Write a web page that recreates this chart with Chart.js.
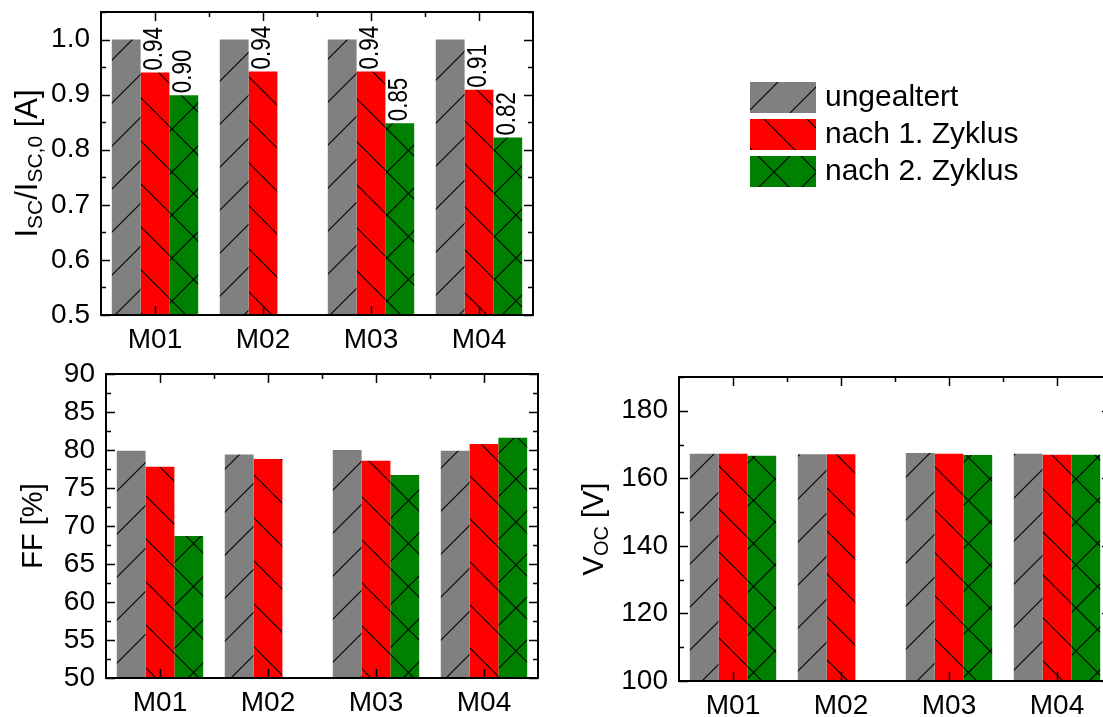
<!DOCTYPE html>
<html lang="de">

<head>
    <meta charset="UTF-8">
    <script src="https://cdn.jsdelivr.net/npm/chart.js@4.4.3/dist/chart.umd.min.js"></script>
    <style>
        html, body {
            margin: 0;
            padding: 0;
            background: #fff;
        }

        #page {
            position: relative;
            width: 1103px;
            height: 717px;
            overflow: hidden;
        }

        canvas {
            position: absolute;
        }
    </style>
</head>

<body>
    <div id="page">
        <canvas id="isc" width="1103" height="350" style="left: 0; top: 0;"></canvas>
        <canvas id="ff" width="560" height="367" style="left: 0; top: 350px;"></canvas>
        <canvas id="voc" width="560" height="367" style="left: 560px; top: 350px;"></canvas>
    </div>

    <script>
        const categories = ["M01", "M02", "M03", "M04"];
        const series_names = ["ungealtert", "nach 1. Zyklus", "nach 2. Zyklus"];

        const isc_ungealtert = [1.0, 1.0, 1.0, 1.0];
        const isc_zyklus1 = [0.940, 0.942, 0.942, 0.909];
        const isc_zyklus2 = [0.899, null, 0.848, 0.822];

        const ff_ungealtert = [79.9, 79.4, 80.0, 79.9];
        const ff_zyklus1 = [77.8, 78.8, 78.6, 80.8];
        const ff_zyklus2 = [68.7, null, 76.7, 81.6];

        const voc_ungealtert = [167.3, 167.1, 167.5, 167.3];
        const voc_zyklus1 = [167.3, 167.1, 167.3, 167.0];
        const voc_zyklus2 = [166.7, null, 166.9, 167.0];

        const isc_ticks = [0.5, 0.6, 0.7, 0.8, 0.9, 1.0];
        const ff_ticks = [50, 55, 60, 65, 70, 75, 80, 85, 90];
        const voc_ticks = [100, 120, 140, 160, 180];

        const FONT = '"Liberation Sans", Arial, sans-serif';

        function make_hatch(fill, with_slash, with_backslash) {
            const P = 43;
            let c = document.createElement("canvas");
            c.width = P;
            c.height = P;
            let g = c.getContext("2d");
            g.fillStyle = fill;
            g.fillRect(0, 0, P, P);
            g.strokeStyle = "#000";
            g.lineWidth = 1.1;
            g.beginPath();
            if (with_slash) {
                g.moveTo(-2, P + 2); g.lineTo(P + 2, -2);
                g.moveTo(-2, 2); g.lineTo(2, -2);
                g.moveTo(P - 2, P + 2); g.lineTo(P + 2, P - 2);
            }
            if (with_backslash) {
                g.moveTo(-2, -2); g.lineTo(P + 2, P + 2);
                g.moveTo(P - 2, -2); g.lineTo(P + 2, 2);
                g.moveTo(-2, P - 2); g.lineTo(2, P + 2);
            }
            g.stroke();
            return g.createPattern(c, "repeat");
        }

        const fills = [
            make_hatch("#808080", true, false),
            make_hatch("#ff0000", false, true),
            make_hatch("#008000", true, true)
        ];

        function make_datasets(series) {
            return series.map((values, i) => ({
                label: series_names[i],
                data: values,
                backgroundColor: fills[i],
                borderWidth: 0,
                categoryPercentage: 0.8,
                barPercentage: 1.0
            }));
        }

        // frame with inward ticks on all four sides
        function frame_plugin(minor_step) {
            return {
                id: "frame",
                afterDatasetsDraw(chart) {
                    const { left, right, top, bottom } = chart.chartArea;
                    const xs = chart.scales.x, ys = chart.scales.y;
                    const ctx = chart.ctx;
                    ctx.save();
                    ctx.strokeStyle = "#000";
                    ctx.lineWidth = 1.5;
                    ctx.beginPath();
                    const major = ys.ticks.map(t => t.value);
                    for (let k = 0; ys.min + k * minor_step <= ys.max + 1e-9; k++) {
                        let v = ys.min + k * minor_step;
                        let len = major.some(m => Math.abs(m - v) < 1e-9) ? 9 : 5;
                        let py = Math.round(ys.getPixelForValue(v)) + 0.5;
                        ctx.moveTo(left, py); ctx.lineTo(left + len, py);
                        ctx.moveTo(right, py); ctx.lineTo(right - len, py);
                    }
                    for (let i = 0; i < categories.length; i++) {
                        let px = Math.round(xs.getPixelForValue(i)) + 0.5;
                        ctx.moveTo(px, top); ctx.lineTo(px, top + 9);
                        ctx.moveTo(px, bottom); ctx.lineTo(px, bottom - 9);
                        if (i > 0) {
                            let bx = Math.round(xs.getPixelForValue(i - 0.5)) + 0.5;
                            ctx.moveTo(bx, top); ctx.lineTo(bx, top + 5);
                        }
                    }
                    ctx.stroke();
                    ctx.lineWidth = 2;
                    ctx.strokeRect(left, top, right - left, bottom - top);
                    ctx.restore();
                }
            };
        }

        // rotated y-axis title, parts may be subscripts
        function title_plugin(parts, baseline_x, size) {
            return {
                id: "ytitle",
                afterDraw(chart) {
                    const ctx = chart.ctx;
                    const cy = (chart.chartArea.top + chart.chartArea.bottom) / 2;
                    const sub_size = Math.round(size * 0.68);
                    ctx.save();
                    ctx.translate(baseline_x, cy);
                    ctx.rotate(-Math.PI / 2);
                    ctx.fillStyle = "#000";
                    ctx.textBaseline = "alphabetic";
                    ctx.textAlign = "left";
                    let total = 0;
                    let widths = parts.map(p => {
                        ctx.font = (p.sub ? sub_size : size) + "px " + FONT;
                        let w = ctx.measureText(p.t).width;
                        total += w;
                        return w;
                    });
                    let pos = -total / 2;
                    parts.forEach((p, i) => {
                        ctx.font = (p.sub ? sub_size : size) + "px " + FONT;
                        ctx.fillText(p.t, pos, p.sub ? 5 : 0);
                        pos += widths[i];
                    });
                    ctx.restore();
                }
            };
        }

        const bar_labels = {
            id: "bar_labels",
            afterDatasetsDraw(chart) {
                const ctx = chart.ctx;
                ctx.save();
                ctx.font = "28px " + FONT;
                ctx.fillStyle = "#000";
                ctx.textBaseline = "middle";
                ctx.textAlign = "left";
                for (let d = 1; d < chart.data.datasets.length; d++) {
                    const meta = chart.getDatasetMeta(d);
                    meta.data.forEach((bar, i) => {
                        const v = chart.data.datasets[d].data[i];
                        if (v == null) return;
                        ctx.save();
                        ctx.translate(bar.x - 1, bar.y - 2);
                        ctx.rotate(-Math.PI / 2);
                        ctx.scale(0.8, 1);
                        ctx.fillText(v.toFixed(2), 0, 0);
                        ctx.restore();
                    });
                }
                ctx.restore();
            }
        };

        const legend_box = {
            id: "legend_box",
            afterDraw(chart) {
                const ctx = chart.ctx;
                ctx.save();
                ctx.font = "30px " + FONT;
                ctx.textBaseline = "middle";
                ctx.textAlign = "left";
                chart.data.datasets.forEach((ds, i) => {
                    let y0 = 82 + i * 37;
                    ctx.fillStyle = ds.backgroundColor;
                    ctx.fillRect(750, y0, 66, 31);
                    ctx.fillStyle = "#000";
                    ctx.fillText(ds.label, 825, y0 + 16);
                });
                ctx.restore();
            }
        };

        function make_chart(id, series, y_min, y_max, y_ticks, digits, box, plugins) {
            return new Chart(document.getElementById(id), {
                type: "bar",
                data: {
                    labels: categories,
                    datasets: make_datasets(series)
                },
                plugins: plugins,
                options: {
                    responsive: false,
                    animation: false,
                    layout: {
                        padding: { left: 0, top: box.top, right: box.right, bottom: 0 }
                    },
                    plugins: {
                        legend: { display: false },
                        tooltip: { enabled: false }
                    },
                    scales: {
                        x: {
                            grid: { display: false, drawTicks: false },
                            border: { display: false },
                            ticks: {
                                color: "#000",
                                padding: 8,
                                font: { family: FONT, size: 28 },
                                maxRotation: 0
                            },
                            afterFit: s => {
                                s.height = box.x_height;
                                s.paddingLeft = 0;
                                s.paddingRight = 0;
                            }
                        },
                        y: {
                            min: y_min,
                            max: y_max,
                            grid: { display: false, drawTicks: false },
                            border: { display: false },
                            ticks: {
                                color: "#000",
                                padding: 11,
                                font: { family: FONT, size: 28 },
                                callback: v => Number(v).toFixed(digits)
                            },
                            afterBuildTicks: s => {
                                s.ticks = y_ticks.map(v => ({ value: v }));
                            },
                            afterFit: s => {
                                s.width = box.y_width;
                                s.paddingTop = 0;
                                s.paddingBottom = 0;
                            }
                        }
                    }
                }
            });
        }

        make_chart("isc", [isc_ungealtert, isc_zyklus1, isc_zyklus2], 0.5, 1.05, isc_ticks, 1,
            { top: 12, right: 570, x_height: 35, y_width: 101 },
            [frame_plugin(0.05), bar_labels, legend_box,
                title_plugin([{ t: "I" }, { t: "SC", sub: true }, { t: "/I" }, { t: "SC,0", sub: true }, { t: " [A]" }], 37, 31)]);

        make_chart("ff", [ff_ungealtert, ff_zyklus1, ff_zyklus2], 50, 90, ff_ticks, 0,
            { top: 24, right: 22, x_height: 39, y_width: 106 },
            [frame_plugin(2.5), title_plugin([{ t: "FF [%]" }], 42, 29)]);

        make_chart("voc", [voc_ungealtert, voc_zyklus1, voc_zyklus2], 100, 190, voc_ticks, 0,
            { top: 27, right: 9, x_height: 36, y_width: 119 },
            [frame_plugin(10), title_plugin([{ t: "V" }, { t: "OC", sub: true }, { t: " [V]" }], 43, 29)]);
    </script>
</body>

</html>
